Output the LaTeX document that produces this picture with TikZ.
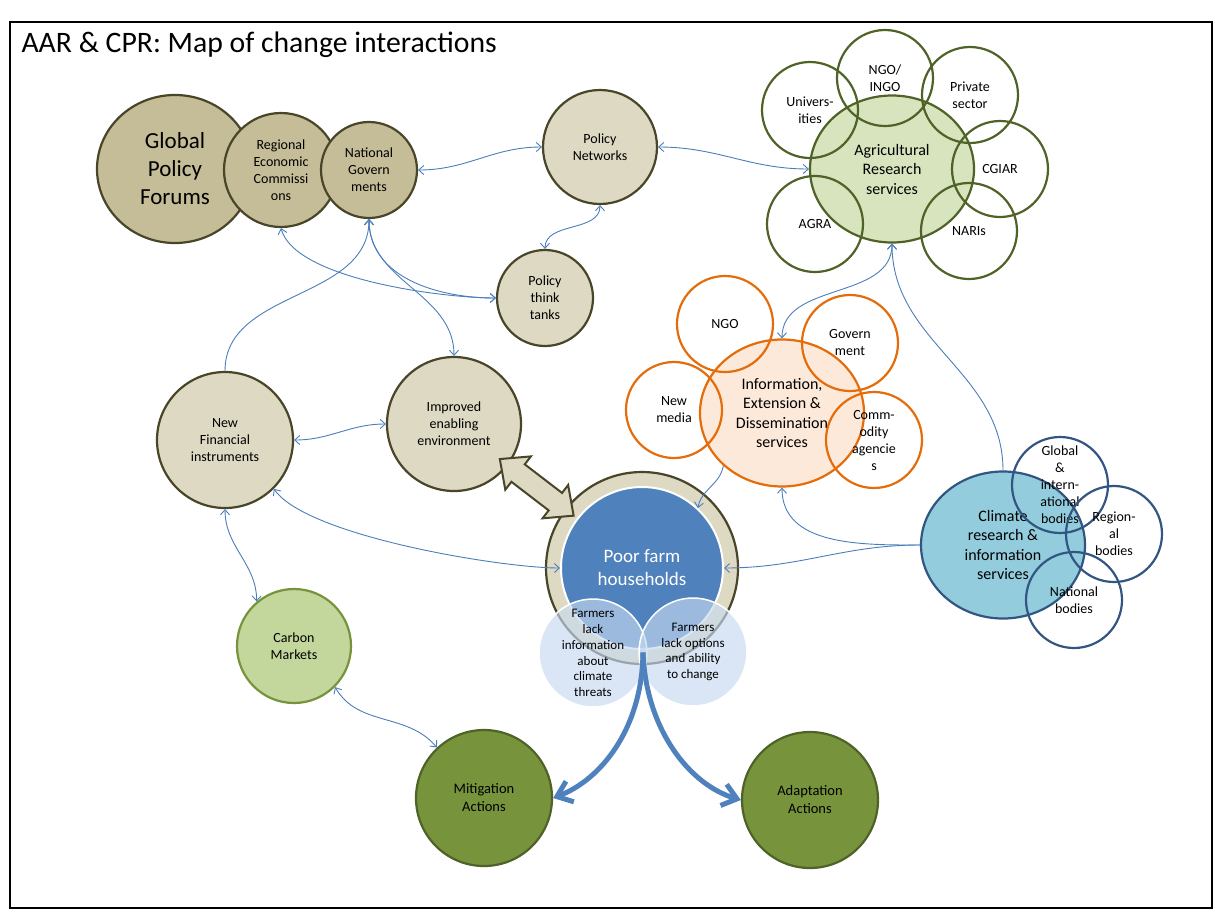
\documentclass[tikz,border=0pt]{standalone}
\usepackage{fontspec}
\setmainfont{Carlito}
\usepackage{tikz}
\usetikzlibrary{shapes.geometric, arrows.meta, calc}

\definecolor{tandark}{RGB}{73,69,41}
\definecolor{tanmid}{RGB}{196,189,151}
\definecolor{tanlight}{RGB}{221,217,195}
\definecolor{olivedark}{RGB}{79,98,40}
\definecolor{arsfill}{RGB}{215,228,189}
\definecolor{extorange}{RGB}{228,108,10}
\definecolor{extfill}{RGB}{253,233,217}
\definecolor{climline}{RGB}{50,85,130}
\definecolor{climfill}{RGB}{147,205,221}
\definecolor{poorblue}{RGB}{79,129,189}
\definecolor{lensblue}{RGB}{198,217,241}
\definecolor{carbonline}{RGB}{119,147,60}
\definecolor{carbonfill}{RGB}{195,214,155}
\definecolor{linkblue}{RGB}{74,126,187}

\tikzstyle{forum} = [circle, draw=tandark, fill=tanmid, line width=2.2pt, inner sep=0pt, align=center, font=\fontsize{14}{17}\selectfont]
\tikzstyle{policy} = [forum, fill=tanlight]
\tikzstyle{carbon} = [forum, draw=carbonline, fill=carbonfill, minimum size=114pt]
\tikzstyle{action} = [forum, draw=olivedark, fill=carbonline, minimum size=136pt, font=\fontsize{14.5}{18}\selectfont]
\tikzstyle{hub} = [ellipse, line width=2.2pt, inner sep=0pt, minimum width=164pt, minimum height=147pt, align=center, font=\fontsize{16}{19.5}\selectfont]
\tikzstyle{member} = [circle, line width=2.2pt, inner sep=0pt, minimum size=96pt, align=center, font=\fontsize{14}{17}\selectfont]
\tikzstyle{lens} = [circle, draw=white, line width=1.5pt, fill=lensblue, fill opacity=0.65, text opacity=1, inner sep=0pt, minimum size=108pt, align=center, font=\fontsize{13}{15.8}\selectfont]
\tikzstyle{fatarrow} = [draw=tandark, fill=tanlight, line width=2pt, line join=miter]
\tikzstyle{link} = [draw=linkblue, line width=0.9pt, {Straight Barb[length=5pt,width=9pt]}-{Straight Barb[length=5pt,width=9pt]}]
\tikzstyle{linkto} = [draw=linkblue, line width=0.9pt, -{Straight Barb[length=5pt,width=9pt]}]
\tikzstyle{bigarrow} = [draw=poorblue, line width=5pt, -{Straight Barb[length=14pt,width=22pt]}]

\begin{document}
\begin{tikzpicture}[x=1pt, y=1pt]

        \useasboundingbox (0,0) rectangle (1215,-911);
        \draw [line width=1.3pt] (10,-22) rectangle (1212,-908);
        \node (title) [anchor=west, font=\fontsize{29.7}{35}\selectfont] at (18,-45) {AAR \& CPR: Map of change interactions};

        \node (gpf) [forum, ellipse, minimum width=156pt, minimum height=148pt, font=\fontsize{23}{28}\selectfont] at (175,-169) {Global\\Policy\\Forums};
        \node (rec) [forum, minimum size=114pt] at (281,-170) {Regional\\Economic\\Commissi\\ons};
        \node (ng) [forum, minimum size=96pt] at (369,-170) {National\\Govern\\ments};
        \node (pn) [policy, minimum size=114pt] at (600,-147) {Policy\\Networks};
        \node (ptt) [policy, minimum size=96pt] at (545,-298) {Policy\\think\\tanks};
        \node (nfi) [policy, minimum size=136pt] at (225,-440) {New\\Financial\\instruments};
        \node (imp) [policy, minimum size=134pt] at (454,-424) {Improved\\enabling\\environment};
        \node (cm) [carbon] at (294,-646) {Carbon\\Markets};
        \node (mit) [action] at (484,-798) {Mitigation\\Actions};
        \node (adp) [action] at (810,-800) {Adaptation\\Actions};

        \node (ars) [hub, draw=olivedark, fill=arsfill] at (892,-169) {Agricultural\\Research\\services};
        \node (uni) [member, draw=olivedark] at (810,-110) {Univers-\\ities};
        \node (ingo) [member, draw=olivedark] at (885,-78) {NGO/\\INGO};
        \node (priv) [member, draw=olivedark] at (970,-95) {Private\\sector};
        \node (cgiar) [member, draw=olivedark] at (1000,-169) {CGIAR};
        \node (nari) [member, draw=olivedark] at (969,-231) {NARIs};
        \node (agra) [member, draw=olivedark] at (815,-224) {AGRA};

        \node (info) [hub, draw=extorange, fill=extfill] at (782,-413) {Information,\\Extension \&\\Dissemination\\services};
        \node (ngo) [member, draw=extorange] at (725,-324) {NGO};
        \node (gov) [member, draw=extorange] at (850,-343) {Govern\\ment};
        \node (media) [member, draw=extorange] at (674,-410) {New\\media};
        \node (comm) [member, draw=extorange] at (874,-440) {Comm-\\odity\\agencie\\s};

        \node (cr) [hub, draw=climline, fill=climfill] at (1003,-545) {Climate\\research \&\\information\\services};
        \node (glob) [member, draw=climline] at (1060,-485) {Global\\\&\\intern-\\ational\\bodies};
        \node (reg) [member, draw=climline] at (1114,-534) {Region-\\al\\bodies};
        \node (nat) [member, draw=climline] at (1074,-600) {National\\bodies};

        \node (ring) [circle, draw=tandark, fill=tanlight, line width=2.2pt, minimum size=192pt] at (642,-568) {};
        \node (poor) [circle, draw=white, fill=poorblue, line width=2pt, minimum size=162pt, align=center, text=white, font=\fontsize{19}{23}\selectfont] at (642,-568) {Poor farm\\households};
        \node (lackinfo) [lens] at (593,-653) {Farmers\\lack\\information\\about\\climate\\threats};
        \node (lackopt) [lens] at (693,-652) {Farmers\\lack options\\and ability\\to change};

        \draw [fatarrow, shift={($(imp)!0.44!(ring)$)}, rotate=-37.5] (-46.5,0) -- (-23.5,21) -- (-23.5,11) -- (23.5,11) -- (23.5,21) -- (46.5,0) -- (23.5,-21) -- (23.5,-11) -- (-23.5,-11) -- (-23.5,-21) -- cycle;

        \coordinate (split) at ($(lackinfo)!0.5!(lackopt)$);
        \draw [bigarrow] (split) .. controls (642,-730) and (600,-780) .. (mit.east);
        \draw [bigarrow] (split) .. controls (646,-730) and (690,-785) .. (adp.west);

        \draw [link] (ng.east) to[out=0, in=180] (pn.west);
        \draw [link] (pn.east) to[out=0, in=180] (ars.west);
        \draw [link] (pn.south) to[out=-90, in=90] (ptt.north);
        \draw [link] (rec.south) to[out=-75, in=180, looseness=0.6] (ptt.west);
        \draw [link] (ng.south) to[out=-90, in=180] (ptt.west);
        \draw [link] (ng.south) to[out=-90, in=90] (imp.north);
        \draw [linkto] (nfi.north) to[out=90, in=-90] (ng.south);
        \draw [link] (nfi.east) to[out=0, in=180] (imp.west);
        \draw [link] (nfi.south) to[out=-90, in=90] (cm.130);
        \draw [link] (nfi.-45) to[out=-55, in=180, looseness=0.5] (poor.west);
        \draw [link] (cm.-45) to[out=-60, in=130] (mit.133);
        \draw [link] (ars.south) to[out=-90, in=90] (info.north);
        \draw [linkto] (cr.north) to[out=90, in=-90] (ars.south);
        \draw [linkto] (cr.west) to[out=180, in=-90] (info.south);
        \draw [linkto] (cr.west) to[out=180, in=0] (poor.east);
        \draw [linkto] (info.222) to[out=-100, in=80] (poor.47);

    \end{tikzpicture}
\end{document}
